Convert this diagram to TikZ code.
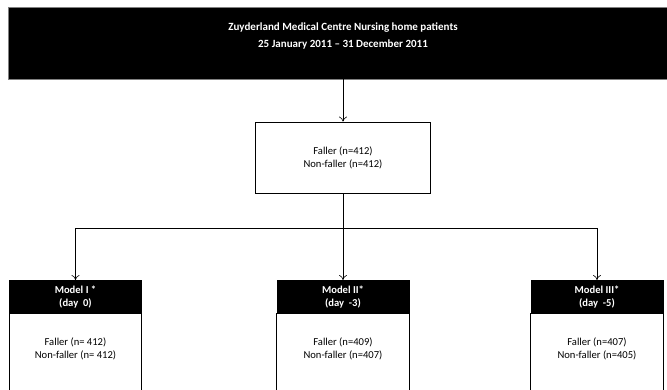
\documentclass[tikz,border=0pt]{standalone}
\usepackage{fontspec}
\setmainfont{Carlito}
\usetikzlibrary{positioning,arrows.meta}

\begin{document}
\begin{tikzpicture}[x=1pt, y=-1pt]
    % Define styles
    \tikzset{
        boxtext/.style={align=center, font=\fontsize{10.6}{13}\selectfont},
        headbox/.style={boxtext, fill=black, draw=black, text=white, font=\fontsize{10.6}{13}\selectfont\bfseries,
            minimum width=132pt, minimum height=33pt, inner sep=0pt, anchor=north},
        midbox/.style={boxtext, draw=black, line width=0.8pt, minimum width=175pt, minimum height=71pt, inner sep=0pt},
        link/.style={line width=0.6pt, -{To[length=5pt, width=8pt]}},
        plain/.style={line width=0.6pt}
    }

    % Page frame
    \useasboundingbox (0,0) rectangle (667,390);
    \clip (0,0) rectangle (667,390);

    % Source population
    \fill[black] (8,7) rectangle (690,79);
    \draw[gray, line width=0.8pt] (8,7) -- (690,7) (8,7) -- (8,79) (8,79) -- (690,79);
    \node[boxtext, text=white, font=\fontsize{11}{17.5}\selectfont\bfseries] (src) at (343,36)
        {Zuyderland Medical Centre Nursing home patients\\25 January 2011 -- 31 December 2011};
    \coordinate (srcbot) at (343,79);

    % Matched sample
    \node[midbox] (mid) at (343,157.5) {Faller (n=412)\\Non-faller (n=412)};
    \coordinate (split) at (343,228);

    % Models
    \node[headbox] (m1) at (75.5,280) {Model I *\\(day~ 0)};
    \node[headbox] (m2) at (343,280) {Model II*\\(day~ -3)};
    \node[headbox] (m3) at (597,280) {Model III*\\(day~ -5)};

    \foreach \m/\f/\n in {1/{Faller (n= 412)}/{Non-faller (n= 412)},
                          2/{Faller (n=409)}/{Non-faller (n=407)},
                          3/{Faller (n=407)}/{Non-faller (n=405)}} {
        \draw[line width=0.8pt] (m\m.south west) -- ++(0,90) (m\m.south east) -- ++(0,90);
        \node[boxtext, below=21pt of m\m.south] (b\m) {\f\\\n};
    }

    % Connectors
    \draw[link] (srcbot) -- (mid);
    \draw[plain] (mid) -- (split);
    \draw[link] (split) -| (m1.north);
    \draw[link] (split) -- (m2);
    \draw[link] (split) -| (m3.north);
\end{tikzpicture}
\end{document}
